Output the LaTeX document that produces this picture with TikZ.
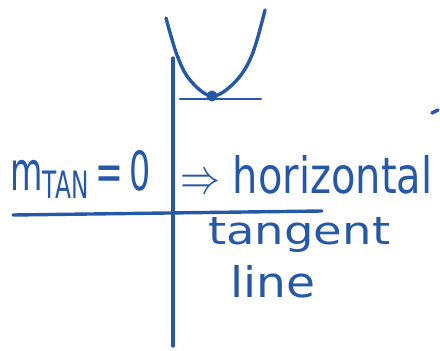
\documentclass[tikz,border=0pt]{standalone}
\usepackage{fontspec}
\setmainfont{DejaVu Sans}
\usepackage{graphicx}
\definecolor{ink}{RGB}{38,88,168}
\begin{document}
\begin{tikzpicture}[x=1pt,y=-1pt,
  pen/.style={draw=ink,line width=3.4pt,line cap=round,line join=round},
  label/.style={text=ink,inner sep=0pt}]
\useasboundingbox (0,0) rectangle (440,351);
% axes
\coordinate (yt) at (173,58);
\coordinate (yb) at (173,346);
\coordinate (xl) at (13,215);
\coordinate (xr) at (322,211);
\draw[pen] (yt) -- (yb);
\draw[pen] (xl) -- (xr);
% parabola
\draw[pen] plot[smooth,tension=0.6] coordinates {(166,18) (177,55) (190,80) (212,96) (235,82) (252,55) (265,10)};
% tangent line
\coordinate (tl) at (180,99);
\coordinate (tr) at (261,99);
\draw[pen,line width=2.6pt] (tl) -- (tr);
\node[fill=ink,circle,minimum size=11pt,inner sep=0pt] (pt) at (212,96) {};
% stray mark
\coordinate (s1) at (432,113);
\coordinate (s2) at (438,110);
\draw[pen] (s1) -- (s2);
% texts
\node[label,anchor=base west] (eq) at (10,190) {\resizebox{140pt}{40pt}{m\textsubscript{TAN}\,=\,0}};
\node[label,anchor=base west] (hz) at (180,193) {\resizebox{252pt}{38pt}{$\Rightarrow$ horizontal}};
\node[label,anchor=base west] (tg) at (208,244) {\resizebox{182pt}{27pt}{tangent}};
\node[label,anchor=base west] (ln) at (230,297) {\resizebox{85pt}{32pt}{line}};
\end{tikzpicture}
\end{document}
